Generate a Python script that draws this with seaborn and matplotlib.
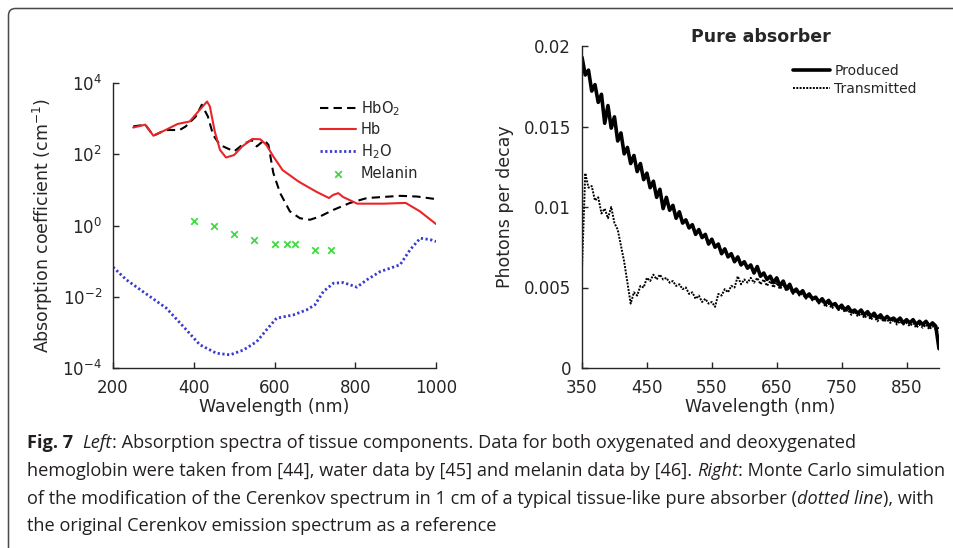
import matplotlib
matplotlib.use("Agg")
import matplotlib.pyplot as plt
import matplotlib.patches as mpatches
import matplotlib.transforms as mtransforms
from matplotlib.ticker import FixedLocator, NullLocator
import seaborn as sns

# ---- left panel: absorption spectra ----
hb_wl = [250, 280, 300, 330, 360, 390, 415, 433, 440, 452, 465, 480, 500, 520, 545,
         565, 580, 597, 620, 660, 705, 735, 745, 758, 770, 805, 870, 925, 960, 1000]
hb_mu = [562, 676, 331, 479, 708, 832, 1778, 3020, 2188, 437, 132, 81, 95, 166, 269,
         263, 182, 87, 36, 17, 8.7, 5.9, 7.2, 8.1, 6.3, 4.1, 4.1, 4.3, 2.5, 1.1]

hbo2_wl = [250, 280, 300, 330, 365, 380, 405, 420, 435, 448, 465, 500, 520, 543, 556,
           575, 585, 597, 614, 638, 663, 688, 713, 746, 787, 829, 911, 953, 1000]
hbo2_mu = [603, 676, 331, 479, 479, 603, 1148, 2455, 1148, 347, 182, 120, 182, 251, 166,
           251, 182, 30, 8.1, 2.5, 1.6, 1.45, 1.8, 2.75, 4.3, 5.9, 6.8, 6.5, 5.5]

h2o_wl = [200, 233, 274, 332, 382, 415, 456, 490, 523, 556, 580, 605, 647, 680, 700,
          721, 746, 771, 804, 829, 862, 911, 936, 961, 986, 1000]
h2o_mu = [0.068, 0.030, 0.014, 0.0048, 0.00117, 0.00045, 0.00026, 0.000234, 0.00032,
          0.00055, 0.00117, 0.0025, 0.0031, 0.0043, 0.0059, 0.014, 0.024, 0.025, 0.0186,
          0.030, 0.051, 0.079, 0.21, 0.44, 0.40, 0.355]

mel_wl = [400, 450, 500, 550, 600, 630, 650, 700, 740]
mel_mu = [1.35, 0.98, 0.58, 0.40, 0.30, 0.30, 0.30, 0.20, 0.20]

left_yticks = [1e-4, 1e-2, 1e0, 1e2, 1e4]
left_xticks = [200, 400, 600, 800, 1000]

# ---- right panel: Monte Carlo spectra, 5 nm steps from 350 to 900 nm ----
mc_wl = list(range(350, 905, 5))
produced = [
    0.0193, 0.0182, 0.0185, 0.0172, 0.0176, 0.0165, 0.0170, 0.0152, 0.0163, 0.0149,
    0.0156, 0.0141, 0.0146, 0.0133, 0.0137, 0.0127, 0.0132, 0.0122, 0.0127, 0.0117,
    0.0121, 0.0112, 0.0116, 0.0106, 0.0111, 0.0099, 0.0106, 0.0098, 0.0101, 0.0093,
    0.0097, 0.0090, 0.0092, 0.0087, 0.0089, 0.0083, 0.0086, 0.0081, 0.0083, 0.0077,
    0.0080, 0.0075, 0.0077, 0.0071, 0.0074, 0.0069, 0.0071, 0.0066, 0.0069, 0.0064,
    0.0066, 0.0062, 0.0064, 0.0059, 0.0063, 0.0057, 0.0059, 0.0055, 0.0057, 0.0053,
    0.0056, 0.0051, 0.0054, 0.0049, 0.0052, 0.0047, 0.0049, 0.0046, 0.0048, 0.0044,
    0.0046, 0.0043, 0.0044, 0.0041, 0.0043, 0.0040, 0.0042, 0.0039, 0.0040, 0.0037,
    0.0039, 0.0036, 0.0038, 0.0035, 0.0036, 0.0034, 0.0036, 0.0033, 0.0035, 0.0032,
    0.0034, 0.0031, 0.0033, 0.0030, 0.0032, 0.0030, 0.0031, 0.0029, 0.0031, 0.0028,
    0.0030, 0.0028, 0.0030, 0.0027, 0.0029, 0.0027, 0.0029, 0.0026, 0.0028, 0.0026,
    0.0012,
]
transmitted = [
    0.0062, 0.0121, 0.0112, 0.0113, 0.0104, 0.0106, 0.0096, 0.0099, 0.0093, 0.0100,
    0.0090, 0.0086, 0.0076, 0.0066, 0.0053, 0.0040, 0.0047, 0.0045, 0.0051, 0.0050,
    0.0056, 0.0054, 0.0058, 0.0055, 0.0058, 0.0055, 0.0056, 0.0053, 0.0054, 0.0051,
    0.0052, 0.0049, 0.0050, 0.0046, 0.0047, 0.0043, 0.0045, 0.0041, 0.0043, 0.0040,
    0.0041, 0.0038, 0.0046, 0.0045, 0.0049, 0.0047, 0.0051, 0.0050, 0.0057, 0.0052,
    0.0055, 0.0053, 0.0056, 0.0053, 0.0056, 0.0052, 0.0055, 0.0051, 0.0054, 0.0050,
    0.0053, 0.0049, 0.0052, 0.0048, 0.0050, 0.0046, 0.0048, 0.0045, 0.0046, 0.0043,
    0.0045, 0.0042, 0.0043, 0.0040, 0.0042, 0.0038, 0.0040, 0.0037, 0.0039, 0.0036,
    0.0037, 0.0035, 0.0036, 0.0033, 0.0035, 0.0032, 0.0034, 0.0031, 0.0033, 0.0030,
    0.0032, 0.0029, 0.0031, 0.0029, 0.0030, 0.0028, 0.0030, 0.0027, 0.0029, 0.0027,
    0.0028, 0.0026, 0.0028, 0.0025, 0.0027, 0.0025, 0.0027, 0.0024, 0.0026, 0.0024,
    0.0025,
]
right_xticks = [350, 450, 550, 650, 750, 850]
right_yticks = [0, 0.005, 0.01, 0.015, 0.02]
right_yticklabels = ["0", "0.005", "0.01", "0.015", "0.02"]

caption_lines = [
    [("Fig. 7", "b"), ("  ", "n"), ("Left", "i"),
     (": Absorption spectra of tissue components. Data for both oxygenated and deoxygenated", "n")],
    [("hemoglobin were taken from [44], water data by [45] and melanin data by [46]. ", "n"),
     ("Right", "i"), (": Monte Carlo simulation", "n")],
    [("of the modification of the Cerenkov spectrum in 1 cm of a typical tissue-like pure absorber (", "n"),
     ("dotted line", "i"), ("), with", "n")],
    [("the original Cerenkov emission spectrum as a reference", "n")],
]

W, H = 954, 548
INK = "#262626"

sns.set_style("ticks")
plt.rcParams["font.family"] = ["DejaVu Sans"]
plt.rcParams["text.color"] = INK
plt.rcParams["axes.labelcolor"] = INK

fig = plt.figure(figsize=(W / 100, H / 100), dpi=100)
ax1 = fig.add_axes([113 / W, 1 - 368 / H, 323 / W, 285 / H])
ax2 = fig.add_axes([582 / W, 1 - 368 / H, 357 / W, 322 / H])

# left panel
sns.lineplot(x=hbo2_wl, y=hbo2_mu, ax=ax1, color="black", lw=1.5,
             linestyle=(0, (4, 2.5)), label="HbO$_2$")
sns.lineplot(x=hb_wl, y=hb_mu, ax=ax1, color="#e8262a", lw=1.5, label="Hb")
sns.lineplot(x=h2o_wl, y=h2o_mu, ax=ax1, color="#3a3ad0", lw=2.0,
             linestyle=(0, (0.8, 0.9)), label="H$_2$O")
sns.scatterplot(x=mel_wl, y=mel_mu, ax=ax1, marker="x", color="#3fdc3f",
                s=22, linewidth=1.3, label="Melanin")
ax1.set_yscale("log")
ax1.set_xlim(200, 1000)
ax1.set_ylim(1e-4, 1e4)
ax1.yaxis.set_major_locator(FixedLocator(left_yticks))
ax1.yaxis.set_minor_locator(NullLocator())
ax1.set_xticks(left_xticks)
ax1.set_xlabel("Wavelength (nm)", fontsize=12.5)
ax1.set_ylabel("Absorption coefficient (cm$^{-1}$)", fontsize=12.5)
ax1.xaxis.set_label_coords(0.5, -0.105)
ax1.yaxis.set_label_coords(-0.18, 0.5)
ax1.legend(loc="upper left", bbox_to_anchor=(0.60, 0.99), frameon=False,
           fontsize=10.5, handlelength=2.5, handletextpad=0.3, labelspacing=0.33,
           labelcolor=INK)

# right panel
sns.lineplot(x=mc_wl, y=produced, ax=ax2, color="black", lw=2.6, label="Produced")
sns.lineplot(x=mc_wl, y=transmitted, ax=ax2, color="black", lw=1.4,
             linestyle=(0, (1, 0.7)), label="Transmitted")
ax2.set_xlim(350, 900)
ax2.set_ylim(0, 0.02)
ax2.set_xticks(right_xticks)
ax2.set_yticks(right_yticks)
ax2.set_yticklabels(right_yticklabels)
ax2.set_xlabel("Wavelength (nm)", fontsize=12.5)
ax2.set_ylabel("Photons per decay", fontsize=12.5)
ax2.xaxis.set_label_coords(0.5, -0.092)
ax2.yaxis.set_label_coords(-0.19, 0.5)
ax2.set_title("Pure absorber", fontsize=12.5, fontweight="bold", pad=3)
ax2.legend(loc="upper left", bbox_to_anchor=(0.555, 0.983), frameon=False,
           fontsize=10, handlelength=2.7, handletextpad=0.3, labelspacing=0.3,
           labelcolor=INK)

for ax in (ax1, ax2):
    sns.despine(ax=ax)
    ax.tick_params(direction="in", length=4, width=1, colors=INK, labelsize=12, pad=8)
    for sp in ("left", "bottom"):
        ax.spines[sp].set_color(INK)
        ax.spines[sp].set_linewidth(1.0)

# outer frame (only top and left edges visible)
frame = mpatches.FancyBboxPatch((8.5, -40), 1000, H - 8.5 + 40,
                                boxstyle="round,pad=0,rounding_size=7",
                                transform=mtransforms.IdentityTransform(),
                                fill=False, edgecolor="#4a4a4a", lw=1.1)
fig.add_artist(frame)

# caption with mixed bold / italic pieces; font size fitted so line 2 spans like the reference
fig.canvas.draw()
renderer = fig.canvas.get_renderer()
styles = {"b": dict(fontweight="bold"), "i": dict(fontstyle="italic"), "n": {}}
cap_font = "Open Sans"


def line_width(line, size):
    total = 0
    for txt, st in line:
        t = fig.text(0, 0, txt, family=cap_font, fontsize=size, **styles[st])
        total += t.get_window_extent(renderer).width
        t.remove()
    return total


cap_size = 10 * (948 - 27) / line_width(caption_lines[1], 10)
baselines = [448, 476, 504, 531]
for line, yb in zip(caption_lines, baselines):
    x = 27
    for txt, st in line:
        t = fig.text(x / W, 1 - yb / H, txt, va="baseline", ha="left",
                     family=cap_font, fontsize=cap_size, color="#231f20", **styles[st])
        x += t.get_window_extent(renderer).width

fig.savefig("out.png", dpi=100)
